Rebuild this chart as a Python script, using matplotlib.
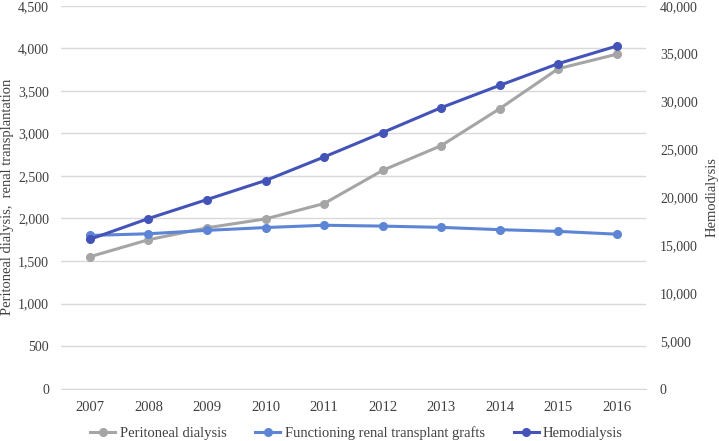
import matplotlib
matplotlib.use("Agg")
import matplotlib.pyplot as plt

years = [2007, 2008, 2009, 2010, 2011, 2012, 2013, 2014, 2015, 2016]
peritoneal = [1550, 1750, 1890, 1995, 2175, 2565, 2855, 3290, 3760, 3930]
transplant = [1800, 1820, 1860, 1893, 1920, 1910, 1895, 1868, 1848, 1815]
hemodialysis = [15600, 17770, 19750, 21740, 24200, 26750, 29350, 31680, 33950, 35790]

plt.rcParams['font.family'] = ['Liberation Serif', 'DejaVu Serif']
plt.rcParams['font.size'] = 10.5

c_gray = "#A5A5A5"
c_light = "#5D85D5"
c_dark = "#4453B8"
txt = "#404040"

fig = plt.figure(figsize=(7.19, 4.41), dpi=100)
ax = fig.add_axes([0.0844, 0.1188, 0.8141, 0.8682])
ax2 = ax.twinx()

x = list(range(len(years)))
l1, = ax.plot(x, peritoneal, color=c_gray, lw=2.2, marker="o", ms=5.5, label="Peritoneal dialysis")
l2, = ax.plot(x, transplant, color=c_light, lw=2.2, marker="o", ms=5.5, label="Functioning renal transplant grafts")
l3, = ax2.plot(x, hemodialysis, color=c_dark, lw=2.2, marker="o", ms=5.5, label="Hemodialysis")

ax.set_xlim(-0.5, len(years) - 0.5)
ax.set_ylim(0, 4500)
ax2.set_ylim(0, 40000)
ax.set_yticks(range(0, 4501, 500))
ax2.set_yticks(range(0, 40001, 5000))
ax.yaxis.set_major_formatter(matplotlib.ticker.StrMethodFormatter("{x:,.0f}"))
ax2.yaxis.set_major_formatter(matplotlib.ticker.StrMethodFormatter("{x:,.0f}"))
ax.set_xticks(x)
ax.set_xticklabels([str(y) for y in years])

ax.grid(axis="y", color="#D9D9D9", lw=1)
ax.set_axisbelow(True)
for a in (ax, ax2):
    for s in a.spines.values():
        s.set_visible(False)
    a.tick_params(length=0, colors=txt)
ax.spines["bottom"].set_visible(True)
ax.spines["bottom"].set_color("#D9D9D9")
ax.tick_params(axis="x", pad=9, labelsize=10.5)
ax.tick_params(axis="y", pad=8.4, labelsize=10)
ax2.tick_params(axis="y", pad=10, labelsize=10)

fig.text(8 / 719, 1 - 197 / 441, "Peritoneal dialysis,  renal transplantation",
         rotation=90, ha="center", va="center", color=txt, fontsize=10.5)
fig.text(712 / 719, 1 - 197 / 441, "Hemodialysis",
         rotation=90, ha="center", va="center", color=txt, fontsize=10.5)

fig.legend(handles=[l1, l2, l3], loc="center", ncol=3, frameon=False,
           bbox_to_anchor=(0.496, 0.018), fontsize=10.5, handlelength=1.7,
           handletextpad=0.3, columnspacing=2.0, labelcolor=txt)

fig.savefig("out.png", dpi=100)
